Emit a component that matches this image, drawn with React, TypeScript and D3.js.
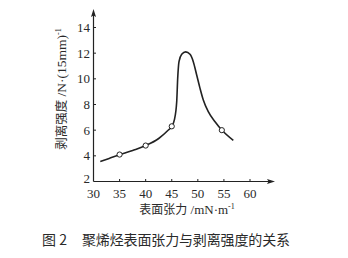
import React from "react";
import * as d3 from "d3";

const curveX = [31.3, 33, 35, 37.5, 40, 42.5, 44.2, 45, 45.5, 45.95, 46.14, 46.39, 46.91, 47.67, 48.5, 49.13, 49.78, 50.42, 51.05, 52.0, 53.3, 54.6, 56.8];
const curveY = [3.56, 3.8, 4.08, 4.42, 4.8, 5.35, 5.95, 6.3, 6.8, 8.22, 10.04, 11.34, 11.91, 12.1, 11.91, 11.34, 10.3, 9.26, 8.35, 7.44, 6.66, 6.01, 5.2];
const markerX = [35, 40, 45, 54.6];
const markerY = [4.1, 4.8, 6.3, 6.0];
const xTicks = [30, 35, 40, 45, 50, 55, 60];
const yTicks = [2, 4, 6, 8, 10, 12, 14];
const xLabel = "表面张力 /mN·m";
const yLabel = "剥离强度 /N·(15mm)";
const caption = ["图 2", "聚烯烃表面张力与剥离强度的关系"];

export default function App() {
  const x = d3.scaleLinear().domain([30, 60]).range([93.5, 250]);
  const y = d3.scaleLinear().domain([2, 14]).range([181.5, 27.5]);
  const pts: [number, number][] = curveX.map((v, i) => [x(v), y(curveY[i])]);
  const line = d3.line().curve(d3.curveMonotoneX)(pts) || "";
  const x0 = x(30);
  const y0 = y(2);
  const ink = "#222";
  const serif = "'Liberation Serif', 'DejaVu Serif', serif";
  const cjk = "'Noto Sans CJK SC', sans-serif";
  return (
    <svg width={348} height={258} style={{ position: "absolute", left: 0, top: 0, background: "#fff" }}>
      <rect width={348} height={258} fill="#fff" />
      {/* axes */}
      <line x1={x0} y1={y0} x2={272} y2={y0} stroke={ink} strokeWidth={1.2} />
      <path d={`M275,${y0} L267,${y0 - 2.5} L268.5,${y0} L267,${y0 + 2.5} Z`} fill={ink} />
      <line x1={x0} y1={y0} x2={x0} y2={13} stroke={ink} strokeWidth={1.2} />
      <path d={`M${x0},9 L${x0 - 2.5},17 L${x0},15.5 L${x0 + 2.5},17 Z`} fill={ink} />
      {xTicks.map((t) => (
        <g key={"x" + t}>
          {t !== 30 && <line x1={x(t)} x2={x(t)} y1={y0} y2={y0 - 2.5} stroke={ink} strokeWidth={1} />}
          <text x={x(t)} y={198} textAnchor="middle" fontFamily={serif} fontSize={13} fill="#2a2a2a">{t}</text>
        </g>
      ))}
      {yTicks.map((t) => (
        <g key={"y" + t}>
          {t !== 2 && <line x1={x0} x2={x0 + 2.5} y1={y(t)} y2={y(t)} stroke={ink} strokeWidth={1} />}
          <text x={90} y={t === 2 ? y(t) + 1 : y(t) + 4.5} textAnchor="end" fontFamily={serif} fontSize={13} fill="#2a2a2a">{t}</text>
        </g>
      ))}
      {/* curve */}
      <path d={line} fill="none" stroke={ink} strokeWidth={1.6} />
      {markerX.map((v, i) => (
        <circle key={"m" + i} cx={x(v)} cy={y(markerY[i])} r={2.6} fill="#fff" stroke={ink} strokeWidth={1} />
      ))}
      {/* axis labels */}
      <text x={187} y={214} textAnchor="middle" fontSize={12} fill="#2a2a2a">
        <tspan fontFamily={cjk}>{xLabel.split(" ")[0]}</tspan>
        <tspan fontFamily={serif} fontSize={13}>{" " + xLabel.split(" ")[1]}</tspan>
        <tspan fontFamily={serif} fontSize={8} dy={-5}>-1</tspan>
      </text>
      <text transform="translate(66,89) rotate(-90)" textAnchor="middle" fontSize={12.5} fill="#2a2a2a">
        <tspan fontFamily={cjk}>{yLabel.split(" ")[0]}</tspan>
        <tspan fontFamily={serif} fontSize={13.5}>{" " + yLabel.split(" ")[1]}</tspan>
        <tspan fontFamily={serif} fontSize={8} dy={-5}>-1</tspan>
      </text>
      {/* caption */}
      <text x={42} y={245} fontFamily={cjk} fontSize={14} fill="#2a2a2a">{caption[0]}</text>
      <text x={82} y={245} fontFamily={cjk} fontSize={14} fill="#2a2a2a" textLength={208} lengthAdjust="spacing">{caption[1]}</text>
    </svg>
  );
}
